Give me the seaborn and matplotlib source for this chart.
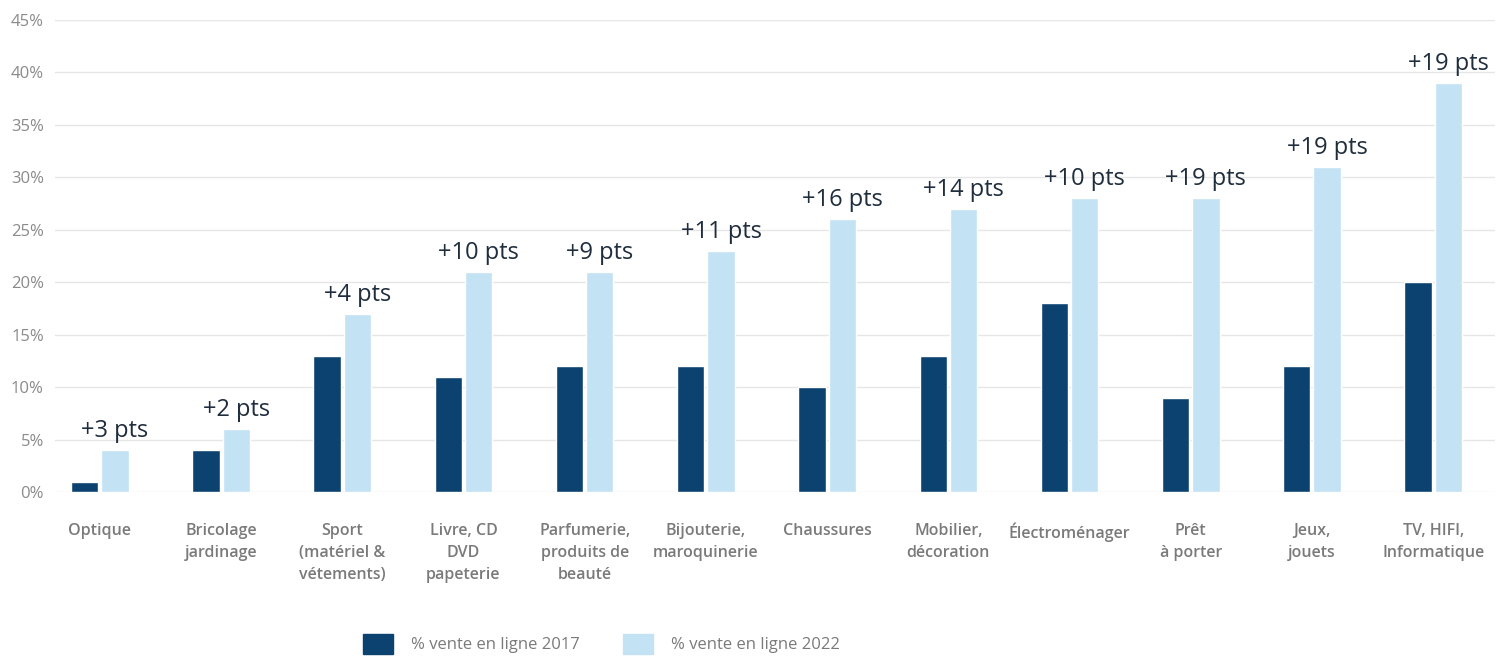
import pandas as pd
import numpy as np
import matplotlib
matplotlib.use("Agg")
import matplotlib.pyplot as plt
import seaborn as sns

categories = [
    "Optique", "Bricolage\njardinage", "Sport\n(matériel &\nvétements)",
    "Livre, CD\nDVD\npapeterie", "Parfumerie,\nproduits de\nbeauté",
    "Bijouterie,\nmaroquinerie", "Chaussures", "Mobilier,\ndécoration",
    "Électroménager", "Prêt\nà porter", "Jeux,\njouets", "TV, HIFI,\nInformatique",
]
vente_2017 = [1, 4, 13, 11, 12, 12, 10, 13, 18, 9, 12, 20]
vente_2022 = [4, 6, 17, 21, 21, 23, 26, 27, 28, 28, 31, 39]
gains = ["+3 pts", "+2 pts", "+4 pts", "+10 pts", "+9 pts", "+11 pts",
         "+16 pts", "+14 pts", "+10 pts", "+19 pts", "+19 pts", "+19 pts"]
series = ["% vente en ligne 2017", "% vente en ligne 2022"]

DARK = "#0c4270"
LIGHT = "#c3e2f4"

df = pd.DataFrame({
    "cat": categories * 2,
    "val": vente_2017 + vente_2022,
    "serie": [series[0]] * len(categories) + [series[1]] * len(categories),
})

sns.set_style("white")
plt.rcParams["font.family"] = ["Open Sans", "DejaVu Sans"]

fig = plt.figure(figsize=(14.96, 6.56), dpi=100)
ax = fig.add_axes([55 / 1496, 164 / 656, 1440 / 1496, 472 / 656])

sns.barplot(data=df, x="cat", y="val", hue="serie", order=categories,
            hue_order=series, palette=[DARK, LIGHT], width=0.5, gap=0.1,
            saturation=1, ax=ax, legend=False)

ax.set_ylim(0, 45)
ax.set_xlim(-0.37, 11.51)
ax.set_yticks(range(0, 46, 5))
ax.set_yticklabels([f"{v}%" for v in range(0, 46, 5)], color="#8a8a8a", fontsize=12)
ax.yaxis.grid(True, color="#e6e6e6", linewidth=1)
ax.set_axisbelow(True)
for s in ax.spines.values():
    s.set_visible(False)
ax.tick_params(axis="y", length=0, pad=8)
ax.tick_params(axis="x", length=0, pad=22)
ax.set_xticks(range(len(categories)))
ax.set_xticklabels(categories, color="#7a7a7a", fontsize=11.5, fontweight="semibold",
                   va="top", linespacing=1.5)
ax.set_xlabel("")
ax.set_ylabel("")

# annotations above the 2022 bars
light_bars = ax.containers[1]
for bar, txt in zip(light_bars, gains):
    ax.annotate(txt, (bar.get_x() + bar.get_width() / 2, bar.get_height()),
                xytext=(0, 5), textcoords="offset points", ha="center", va="bottom",
                fontsize=17, color="#1f2d3d")

handles = [plt.Rectangle((0, 0), 1, 1, color=DARK), plt.Rectangle((0, 0), 1, 1, color=LIGHT)]
fig.legend(handles, series, loc="lower center", bbox_to_anchor=(0.402, -0.02), ncol=2,
           frameon=False, fontsize=12, handlelength=1.8, handleheight=1.5,
           columnspacing=2.6, handletextpad=1.1, labelcolor="#7a7a7a")

fig.savefig("out.png", dpi=100)
